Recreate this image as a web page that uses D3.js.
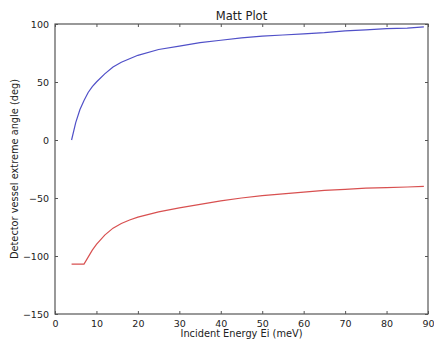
<!DOCTYPE html>
<html>
<head>
<meta charset="utf-8">
<script src="https://cdn.jsdelivr.net/npm/d3@7"></script>
<style>
  body { margin: 0; background: #fff; }
  text { font-family: "DejaVu Sans", sans-serif; fill: #222; }
</style>
</head>
<body>
<div id="chart"></div>
<script>
// incident energy (meV) and extreme angles (deg)
let energy = [4, 5, 6, 7, 8, 9, 10, 12, 14, 16, 18, 20, 25, 30, 35, 40, 45, 50, 55, 60, 65, 70, 75, 80, 85, 89];
let upper  = [0, 15, 26, 34, 41, 46, 50, 57, 63, 67, 70, 73, 78, 81, 84, 86, 88, 89.5, 90.5, 91.5, 92.5, 94, 95, 96, 96.5, 97.5];
let lower  = [-107, -107, -107, -107, -101, -95, -90, -82, -76, -72, -69, -66.5, -62, -58.5, -55.5, -52.5, -50, -48, -46.5, -45, -43.5, -42.5, -41.5, -41, -40.5, -40];
let xTicks = [0, 10, 20, 30, 40, 50, 60, 70, 80, 90];
let yTicks = [-150, -100, -50, 0, 50, 100];

let width = 434, height = 343;
let margin = {left: 55, right: 6, top: 24, bottom: 29};

let svg = d3.select("#chart")
    .append("svg")
    .attr("width", width)
    .attr("height", height);

let x = d3.scaleLinear().domain([0, 90]).range([margin.left, width - margin.right]);
let y = d3.scaleLinear().domain([-150, 100]).range([height - margin.bottom, margin.top]);

let line = d3.line()
    .x(function(d) { return x(d[0]); })
    .y(function(d) { return y(d[1]); });

svg.append("path")
    .datum(d3.zip(energy, upper))
    .attr("d", line)
    .attr("fill", "none")
    .attr("stroke", "#5050c8")
    .attr("stroke-width", 1.2);

svg.append("path")
    .datum(d3.zip(energy, lower))
    .attr("d", line)
    .attr("fill", "none")
    .attr("stroke", "#d85050")
    .attr("stroke-width", 1.2);

// axes: ticks point inward on all four sides
function styleAxis(g) {
  g.select(".domain").remove();
  g.selectAll("line").attr("stroke", "#555");
  g.selectAll("text").style("font-size", "9.5px").attr("fill", "#222");
}

svg.append("g")
    .attr("transform", "translate(0," + y(-150) + ")")
    .call(d3.axisBottom(x).tickValues(xTicks).tickSize(-3).tickPadding(6))
    .call(styleAxis);

svg.append("g")
    .attr("transform", "translate(0," + y(100) + ")")
    .call(d3.axisTop(x).tickValues(xTicks).tickSize(-3).tickFormat(""))
    .call(styleAxis);

svg.append("g")
    .attr("transform", "translate(" + x(0) + ",0)")
    .call(d3.axisLeft(y).tickValues(yTicks).tickSize(-3).tickPadding(6).tickFormat(function(d) { return d3.format("")(d).replace("-", "\u2212"); }))
    .call(styleAxis);

svg.append("g")
    .attr("transform", "translate(" + x(90) + ",0)")
    .call(d3.axisRight(y).tickValues(yTicks).tickSize(-3).tickFormat(""))
    .call(styleAxis);

svg.append("rect")
    .attr("x", x(0))
    .attr("y", y(100))
    .attr("width", x(90) - x(0))
    .attr("height", y(-150) - y(100))
    .attr("fill", "none")
    .attr("stroke", "#555")
    .attr("stroke-width", 1.2);

svg.append("text")
    .attr("x", (x(0) + x(90)) / 2)
    .attr("y", 20)
    .attr("text-anchor", "middle")
    .style("font-size", "11.5px")
    .text("Matt Plot");

svg.append("text")
    .attr("x", (x(0) + x(90)) / 2)
    .attr("y", 337)
    .attr("text-anchor", "middle")
    .style("font-size", "9.8px")
    .text("Incident Energy Ei (meV)");

svg.append("text")
    .attr("transform", "translate(18," + (y(100) + y(-150)) / 2 + ") rotate(-90)")
    .attr("text-anchor", "middle")
    .style("font-size", "9.8px")
    .text("Detector vessel extreme angle (deg)");
</script>
</body>
</html>
